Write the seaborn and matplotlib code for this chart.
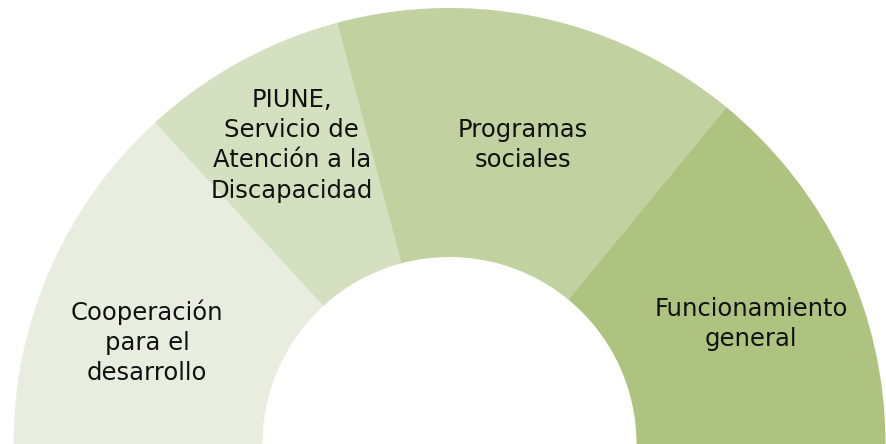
import numpy as np
import matplotlib
matplotlib.use("Agg")
import matplotlib.pyplot as plt
import seaborn as sns

# Data (share of the half donut)
categories = ["Cooperación\npara el\ndesarrollo",
              "PIUNE,\nServicio de\nAtención a la\nDiscapacidad",
              "Programas\nsociales",
              "Funcionamiento\ngeneral"]
values = [26.4, 15.3, 30.2, 28.1]
colors = ["#e9eddf", "#d5e0c0", "#c1d1a0", "#aec380"]

sns.set_theme(style="white")
plt.rcParams['font.family'] = ['DejaVu Sans']

W, H = 887, 444
fig = plt.figure(figsize=(W / 100, H / 100), dpi=100)
ax = fig.add_axes([0, 0, 1, 1])

total = sum(values)
wedges, _ = ax.pie(values + [total], colors=colors + ["none"],
                   startangle=180, counterclock=False, radius=1.0,
                   wedgeprops=dict(width=1 - 187 / 436, linewidth=0))
wedges[-1].set_visible(False)

# label placement (angle offset in degrees, radius) relative to each wedge's middle
label_layout = [(5.2, 0.732), (-0.9, 0.775), (-1.5, 0.706), (-3.6, 0.744)]
for w, lab, (dang, r) in zip(wedges[:-1], categories, label_layout):
    mid = np.deg2rad((w.theta1 + w.theta2) / 2 + dang)
    ax.text(r * np.cos(mid), r * np.sin(mid), lab, ha="center", va="center",
            fontsize=17.5, color="#111111", linespacing=1.33)

cx, R = 449.5, 436.0
ax.set_xlim(-cx / R, (W - cx) / R)
ax.set_ylim(0, H / R)
ax.set_aspect("equal")
ax.axis("off")
fig.savefig("out.png", dpi=100)
